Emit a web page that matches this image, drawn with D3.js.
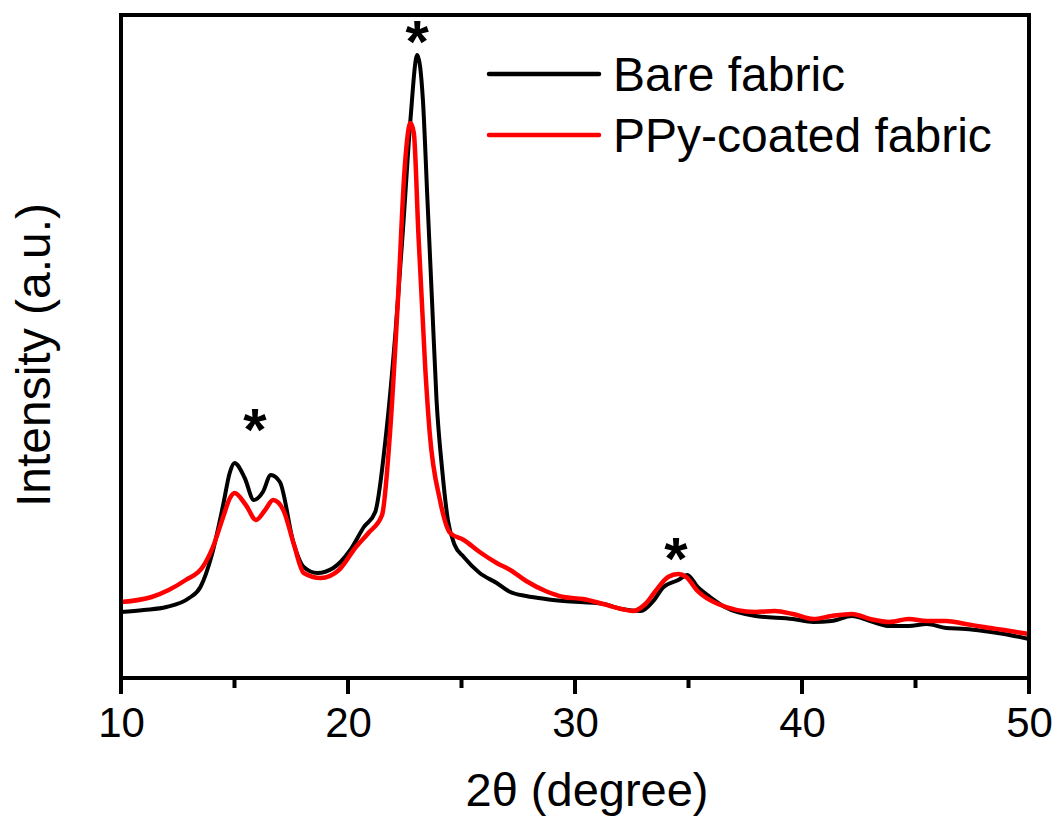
<!DOCTYPE html>
<html>
<head>
<meta charset="utf-8">
<script src="https://cdn.jsdelivr.net/npm/d3@7"></script>
<style>
  body { margin: 0; background: #fff; }
  text { font-family: "Liberation Sans", Arial, sans-serif; fill: #000; }
</style>
</head>
<body>
<svg id="chart" width="1059" height="823"></svg>
<script>
// 2theta (deg) and intensity (a.u.)
const bare_x = [10, 11, 12, 13, 13.5, 14, 14.5, 14.8, 15, 15.45, 15.85, 16.25, 16.6, 17, 17.6, 18.05, 18.65, 19.35, 20.1, 20.7, 21.2,
  21.65, 22.1, 22.45, 22.75, 23.05, 23.3, 23.5, 23.7, 23.9, 24.15, 24.4, 24.7, 25.1, 25.8, 26.55, 27.15, 27.85, 28.7, 29.5,
  31.25, 32.05, 32.9, 33.45, 33.9, 34.55, 34.95, 35.4, 35.95, 36.6, 37.95, 39.6, 40.5, 41.3, 42.2, 43, 43.85, 44.7, 45.5,
  46.35, 47.2, 48, 48.9, 50];
const bare_y = [66, 68, 71, 80, 91, 123, 173, 206, 215, 200, 178, 186, 203, 196, 135, 111, 105, 110, 128, 151, 166,
  238, 348, 458, 558, 623, 578, 478, 378, 278, 208, 158, 133, 121, 105, 95, 86, 82, 79, 77,
  74, 69, 67, 77, 91, 98, 103, 91, 81, 71, 62, 59, 56, 57, 62, 57, 52, 52, 54,
  50, 49, 47, 44, 39];

const ppy_x = [10, 11.35, 12.1, 12.85, 13.6, 14.05, 14.5, 14.8, 15, 15.5, 15.95, 16.35, 16.7, 17.15, 17.6, 18.05, 18.8, 19.6, 20.35, 20.9,
  21.5, 21.85, 22.2, 22.5, 22.75, 22.9, 23.1, 23.4, 23.6, 24.05, 24.5, 25.1, 25.8, 26.55, 27.15, 27.85, 28.7, 29.5, 30.35,
  31.25, 32.05, 32.55, 33.1, 33.55, 34.1, 34.55, 34.9, 35.4, 36.3, 37.95, 38.8, 39.6, 40.5, 41.3, 42.2, 43, 43.85, 44.7,
  45.5, 46.35, 47.2, 48, 48.9, 50];
const ppy_y = [76, 81, 88, 98, 111, 131, 161, 180, 185, 173, 158, 168, 178, 168, 135, 105, 100, 108, 131, 145,
  163, 245, 378, 511, 555, 545, 445, 311, 245, 178, 145, 138, 126, 115, 108, 97, 87, 81, 79,
  74, 69, 67, 74, 87, 101, 104, 101, 87, 74, 66, 67, 64, 59, 62, 64, 59, 56, 59,
  57, 57, 54, 51, 48, 44];

const series_names = ['Bare fabric', 'PPy-coated fabric'];
const series_colors = ['#000000', '#ff0000'];

// asterisks over the reflections
const mark_x = [15.9, 23.05, 34.45];
const mark_y = [255, 643, 126];

const x_major = [10, 20, 30, 40, 50];
const x_minor = [15, 25, 35, 45];

const svg = d3.select('#chart');
const W = 1059, H = 823;
const margin = { top: 15, right: 30, bottom: 145, left: 121 };
const width = W - margin.left - margin.right;
const height = H - margin.top - margin.bottom;

const x = d3.scaleLinear().domain([10, 50]).range([0, width]);
const y = d3.scaleLinear().domain([0, 663]).range([height, 0]);

const g = svg.append('g').attr('transform', `translate(${margin.left},${margin.top})`);

const data = [
  bare_x.map((d, i) => ({ x: d, y: bare_y[i] })),
  ppy_x.map((d, i) => ({ x: d, y: ppy_y[i] })),
];

const line = d3.line().x(d => x(d.x)).y(d => y(d.y)).curve(d3.curveMonotoneX);

g.append('g')
  .selectAll('path.series')
  .data(data)
  .join('path')
    .attr('class', 'series')
    .attr('d', line)
    .attr('fill', 'none')
    .attr('stroke', (d, i) => series_colors[i])
    .attr('stroke-width', (d, i) => i ? 4.5 : 4)
    .attr('stroke-linejoin', 'round');

// tick labels from the axis
const xAxis = d3.axisBottom(x).tickValues(x_major).tickSize(16).tickPadding(13);
g.append('g').attr('class', 'axis')
  .attr('transform', `translate(0,${height})`)
  .call(xAxis)
  .call(s => s.select('.domain').remove())
  .call(s => s.selectAll('.tick line').remove())
  .call(s => s.selectAll('text')
    .attr('font-size', 42)
    .attr('font-family', '"Liberation Sans", Arial, sans-serif')
    .attr('fill', '#000'));

// tick marks below the frame, major and minor
const tickData = x_major.map(d => ({ v: d, len: 16 }))
  .concat(x_minor.map(d => ({ v: d, len: 10 })));
g.append('g').attr('class', 'tick-marks')
  .selectAll('rect')
  .data(tickData)
  .join('rect')
    .attr('x', d => x(d.v) - 2)
    .attr('y', height)
    .attr('width', 4)
    .attr('height', d => d.len)
    .attr('fill', '#000');

// frame
g.append('rect')
  .attr('width', width).attr('height', height)
  .attr('fill', 'none').attr('stroke', '#000').attr('stroke-width', 4);

// asterisks
g.selectAll('text.mark')
  .data(mark_x.map((d, i) => ({ x: d, y: mark_y[i] })))
  .join('text')
    .attr('class', 'mark')
    .attr('x', d => x(d.x))
    .attr('y', d => y(d.y) + 27)
    .attr('text-anchor', 'middle')
    .attr('font-size', 60)
    .attr('font-weight', 'bold')
    .text('*');

// axis titles
svg.append('text')
  .attr('x', margin.left + width / 2 + 12)
  .attr('y', 806)
  .attr('text-anchor', 'middle')
  .attr('font-size', 47)
  .text('2θ (degree)');

svg.append('text')
  .attr('transform', `translate(50,355) rotate(-90)`)
  .attr('text-anchor', 'middle')
  .attr('font-size', 48)
  .text('Intensity (a.u.)');

// legend
const legend = svg.append('g').attr('transform', 'translate(489,74)');
const item = legend.selectAll('g.item')
  .data(series_names)
  .join('g')
    .attr('class', 'item')
    .attr('transform', (d, i) => `translate(0,${i * 61})`);
item.append('line')
  .attr('x1', 0).attr('x2', 110)
  .attr('stroke', (d, i) => series_colors[i])
  .attr('stroke-width', 4.5)
  .attr('stroke-linecap', 'round');
item.append('text')
  .attr('x', 124)
  .attr('y', 17)
  .attr('font-size', 48)
  .text(d => d);
</script>
</body>
</html>
